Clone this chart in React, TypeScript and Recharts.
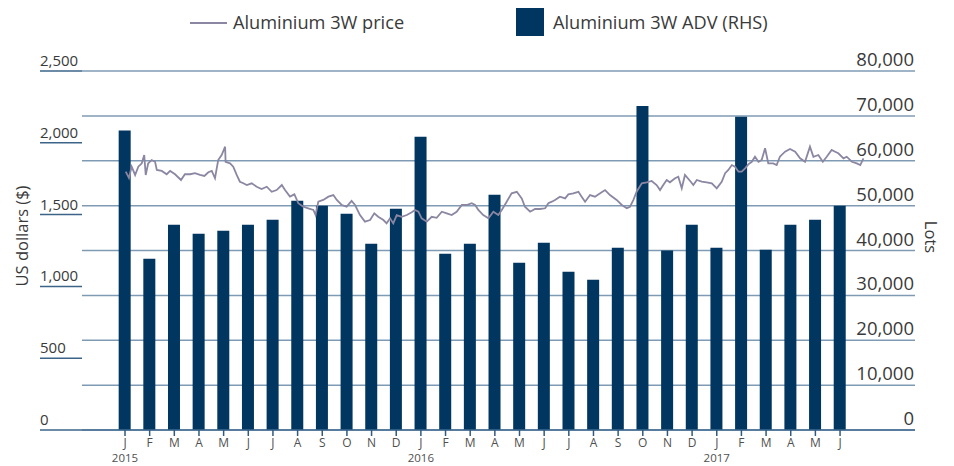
import React from 'react';
import { ComposedChart, Bar, Line, XAxis, YAxis, CartesianGrid, Legend } from 'recharts';

const monthLabels = ['J','F','M','A','M','J','J','A','S','O','N','D','J','F','M','A','M','J','J','A','S','O','N','D','J','F','M','A','M','J'];
const yearLabels: Record<number, string> = { 0: '2015', 12: '2016', 24: '2017' };
const advValues = [66750, 38150, 45720, 43720, 44390, 45720, 46840, 51070, 50000, 48170, 41500, 49290, 65350, 39270, 41500, 52400, 37260, 41710, 35250, 33470, 40600, 72200, 40000, 45720, 40600, 69800, 40150, 45720, 46840, 50000];
const priceMonths = [0.03,0.16,0.27,0.41,0.54,0.68,0.78,0.84,0.94,1.08,1.22,1.29,1.49,1.69,1.83,2.03,2.27,2.43,2.64,2.84,3.04,3.22,3.38,3.52,3.65,3.78,3.92,4.06,4.08,4.26,4.39,4.53,4.66,4.80,4.94,5.14,5.34,5.54,5.75,5.95,6.15,6.36,6.49,6.69,6.87,7.03,7.23,7.43,7.64,7.73,7.84,8.04,8.25,8.45,8.59,8.79,8.99,9.19,9.33,9.53,9.73,9.94,10.11,10.27,10.48,10.61,10.75,10.88,11.02,11.22,11.43,11.63,11.76,11.90,12.03,12.24,12.44,12.64,12.85,13.05,13.25,13.45,13.66,13.86,14.06,14.20,14.33,14.53,14.74,14.94,15.14,15.28,15.48,15.68,15.89,16.09,16.22,16.43,16.63,16.83,17.04,17.17,17.31,17.44,17.64,17.85,17.98,18.18,18.39,18.52,18.66,18.86,19.06,19.27,19.47,19.67,19.94,20.15,20.35,20.48,20.62,20.75,20.96,21.16,21.36,21.56,21.70,21.83,21.97,22.10,22.31,22.44,22.58,22.71,22.92,23.05,23.19,23.39,23.59,23.80,24.00,24.20,24.34,24.47,24.61,24.74,24.88,25.01,25.15,25.28,25.42,25.55,25.69,25.82,25.96,26.09,26.29,26.43,26.56,26.77,26.97,27.18,27.38,27.58,27.78,27.92,28.12,28.30,28.46,28.66,28.80,28.93,29.14,29.27,29.48,29.68,29.82,29.95];
const priceValues = [1799,1755,1834,1776,1834,1857,1915,1776,1857,1880,1868,1811,1804,1781,1804,1781,1741,1781,1781,1788,1776,1769,1795,1804,1753,1880,1915,1973,1868,1857,1834,1776,1729,1718,1706,1718,1694,1678,1694,1659,1671,1706,1671,1625,1641,1579,1555,1544,1532,1497,1590,1602,1625,1636,1602,1567,1555,1595,1567,1497,1451,1462,1509,1485,1462,1439,1474,1439,1497,1485,1497,1516,1532,1520,1474,1451,1485,1478,1520,1509,1497,1520,1567,1567,1579,1567,1532,1497,1474,1520,1497,1532,1590,1648,1659,1613,1555,1520,1539,1539,1544,1579,1590,1602,1625,1613,1641,1648,1659,1625,1590,1636,1625,1648,1671,1636,1602,1567,1544,1555,1602,1659,1718,1725,1734,1706,1671,1706,1741,1725,1753,1764,1683,1776,1734,1706,1741,1729,1725,1718,1683,1729,1788,1811,1845,1834,1799,1799,1822,1850,1868,1903,1868,1880,1962,1857,1857,1845,1903,1938,1957,1938,1892,1868,1973,1903,1915,1868,1903,1950,1938,1927,1892,1903,1868,1857,1845,1892];
const leftTicks = [0, 500, 1000, 1500, 2000, 2500];
const rightTicks = [0, 10000, 20000, 30000, 40000, 50000, 60000, 70000, 80000];
const monthTicks = monthLabels.map((_, i) => i);

const barData = monthLabels.map((_, i) => ({ m: i, adv: advValues[i] }));
const priceData = priceMonths.map((m, i) => ({ m, p: priceValues[i] }));

const X_DOMAIN: [number, number] = [-1.744, 32.04];
const FONT = '"Open Sans", sans-serif';
const TEXT = '#3a3a3a';
const BAR = '#003660';
const LINE = '#8b87a3';
const GRID = '#7f9bb3';
const MARGIN_LEFT = 40;
const PLOT_LEFT = 82;
const PLOT_RIGHT = 915;

const fmt = (v: number) => v.toLocaleString('en-US');

const LeftTick = (props: any) => {
  const { y, payload } = props;
  return (
    <g>
      <line x1={MARGIN_LEFT} x2={PLOT_LEFT} y1={y} y2={y} stroke="#3b6488" strokeWidth={1.5} />
      <text x={MARGIN_LEFT} y={y - 5} fontSize={15} fontFamily={FONT} fill={TEXT} textAnchor="start">{fmt(payload.value)}</text>
    </g>
  );
};

const RightTick = (props: any) => {
  const { y, payload } = props;
  return (
    <text x={PLOT_RIGHT - 1} y={y - 5} fontSize={18.5} fontFamily={FONT} fill={TEXT} textAnchor="end">{fmt(payload.value)}</text>
  );
};

const MonthTick = (props: any) => {
  const { x, y, payload } = props;
  const yr = yearLabels[payload.value];
  return (
    <g>
      <text x={x} y={y + 9} fontSize={12} fontFamily={FONT} fill="#505050" textAnchor="middle">{monthLabels[payload.value]}</text>
      {yr ? <text x={x} y={y + 23.5} fontSize={11.5} fontFamily={FONT} fill="#505050" textAnchor="middle">{yr}</text> : null}
    </g>
  );
};

const LegendContent = () => (
  <svg width={954} height={40} style={{ display: 'block' }}>
    <line x1={190} x2={227} y1={23} y2={23} stroke={LINE} strokeWidth={2} />
    <text x={233} y={29} fontSize={18.2} fontFamily={FONT} fill={TEXT}>Aluminium 3W price</text>
    <rect x={516} y={8} width={28} height={28} fill={BAR} />
    <text x={553} y={29} fontSize={18.2} fontFamily={FONT} fill={TEXT}>Aluminium 3W ADV (RHS)</text>
  </svg>
);

export default function App() {
  return (
    <div style={{ position: 'absolute', left: 0, top: 0 }}>
      <ComposedChart width={954} height={466} data={barData} margin={{ top: 71, right: 0, bottom: 0, left: MARGIN_LEFT }}>
        <CartesianGrid yAxisId="right" vertical={false} stroke={GRID} strokeWidth={1.5} />
        <XAxis
          xAxisId="bars"
          dataKey="m"
          type="number"
          domain={X_DOMAIN}
          allowDataOverflow
          ticks={monthTicks}
          interval={0}
          height={36}
          tickSize={6}
          tickMargin={2}
          axisLine={{ stroke: '#3f6a8f', strokeWidth: 1.5 }}
          tickLine={{ stroke: '#2f5a80', strokeWidth: 1.5 }}
          tick={<MonthTick />}
        />
        <XAxis xAxisId="price" dataKey="m" type="number" domain={X_DOMAIN} allowDataOverflow hide height={0} />
        <YAxis
          yAxisId="left"
          domain={[0, 2500]}
          ticks={leftTicks}
          width={42}
          axisLine={false}
          tickLine={false}
          tick={<LeftTick />}
          label={() => (
            <text x={21} y={236} transform="rotate(-90 21 236)" textAnchor="middle" dominantBaseline="central" fontSize={16.5} fontFamily={FONT} fill={TEXT}>US dollars ($)</text>
          )}
        />
        <YAxis
          yAxisId="right"
          orientation="right"
          domain={[0, 80000]}
          ticks={rightTicks}
          width={39}
          axisLine={false}
          tickLine={false}
          tick={<RightTick />}
          label={() => (
            <text x={931} y={237} transform="rotate(90 931 237)" textAnchor="middle" dominantBaseline="central" fontSize={16.5} fontFamily={FONT} fill={TEXT}>Lots</text>
          )}
        />
        <Legend verticalAlign="middle" align="center" layout="horizontal" wrapperStyle={{ top: 0, left: 0, width: 954, height: 40 }} content={<LegendContent />} />
        <Bar xAxisId="bars" yAxisId="right" dataKey="adv" fill={BAR} barSize={12} isAnimationActive={false} />
        <Line xAxisId="price" yAxisId="left" data={priceData} dataKey="p" stroke={LINE} strokeWidth={1.8} dot={false} activeDot={false} type="linear" isAnimationActive={false} />
      </ComposedChart>
    </div>
  );
}
